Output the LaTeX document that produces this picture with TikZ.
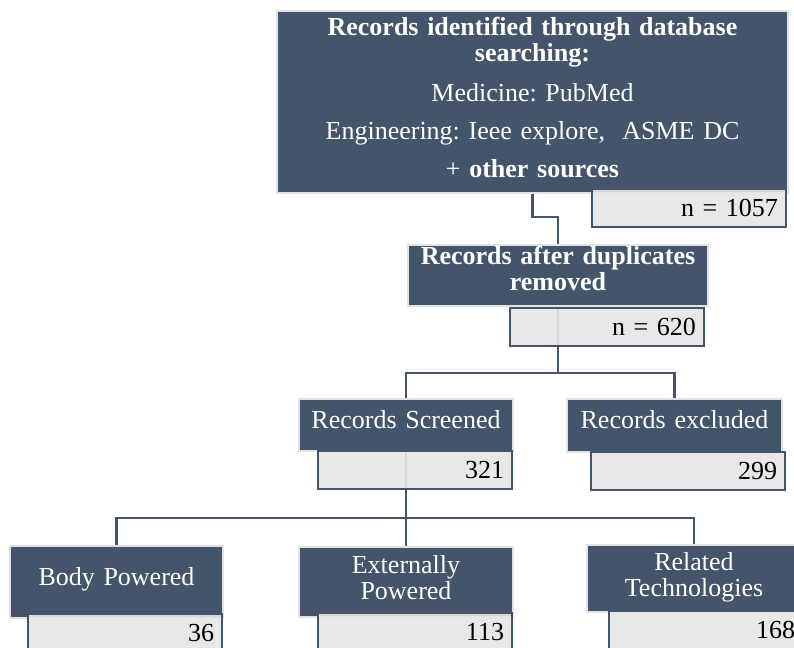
\documentclass[tikz,border=0pt]{standalone}
\usepackage{fontspec}
\setmainfont{Liberation Serif}
\usetikzlibrary{backgrounds}
\definecolor{slate}{HTML}{44546A}
\definecolor{pale}{HTML}{E7E6E6}
\definecolor{rim}{HTML}{E2E2E2}
\newcommand{\padbot}[1]{\par\vspace*{#1pt}}
\frenchspacing

\begin{document}
\begin{tikzpicture}[x=1pt,y=-1pt,
	head/.style={draw=rim,fill=slate,line width=2.4pt,text=white,align=center,anchor=north west,inner sep=0pt,outer sep=0pt,font=\fontsize{26}{26}\selectfont},
	tally/.style={draw=slate,fill=pale,fill opacity=0.9,text opacity=1,line width=1.8pt,anchor=north west,inner xsep=8pt,inner ysep=0pt,outer sep=0pt,minimum width=194pt,minimum height=38pt,text width=178pt,align=right,font=\fontsize{26}{26}\selectfont},
	link/.style={draw=slate,line width=2.4pt}]
\useasboundingbox (0,0) rectangle (794,647);
\clip (0,0) rectangle (794,647);

%search
\node[head,minimum width=511pt,minimum height=182pt,text width=500pt] (ident) at (277,11)
	{{\bfseries Records identified through database\\searching:}\\[14pt]
	Medicine: PubMed\\[12pt]
	Engineering: Ieee explore,~ ASME DC\\[12pt]
	+ {\bfseries other sources}\padbot{8}};
\node[tally] (identn) at (592,189) {n = 1057};

%duplicates
\node[head,minimum width=300pt,minimum height=61pt,text width=290pt] (dup) at (408,245)
	{\bfseries Records after duplicates\\removed\padbot{14}};
\node[tally] (dupn) at (510,308) {n = 620};

%screening
\node[head,minimum width=214pt,minimum height=52pt,text width=206pt] (scr) at (299,399) {Records Screened\padbot{11}};
\node[tally] (scrn) at (318,451) {321};
\node[head,minimum width=215pt,minimum height=53pt,text width=207pt] (exc) at (567,399) {Records excluded\padbot{11}};
\node[tally] (excn) at (591,452) {299};

%groups
\node[head,minimum width=213pt,minimum height=72pt,text width=205pt] (body) at (10,546) {Body Powered\padbot{6}};
\node[tally] (bodyn) at (28,614) {36};
\node[head,minimum width=214pt,minimum height=70pt,text width=206pt] (ext) at (299,547) {Externally\\Powered\padbot{9}};
\node[tally] (extn) at (318,613) {113};
\node[head,minimum width=214pt,minimum height=67pt,text width=206pt] (rel) at (587,545) {Related\\Technologies\padbot{2}};
\node[tally] (reln) at (609,611) {168};

%connectors
\begin{pgfonlayer}{background}
\draw[link] (ident.south) -- ++(0,24) -| (dup.north);
\draw[link] (dup.south) -- ++(0,67) coordinate (dupfork);
\draw[link] (scr.north) |- (dupfork) -| (exc.north);
\draw[link] (scr.south) -- ++(0,67) coordinate (scrfork);
\draw[link] (body.north) |- (scrfork) -| (rel.north);
\draw[link] (scrfork) -- (ext.north);
\end{pgfonlayer}
\end{tikzpicture}
\end{document}
